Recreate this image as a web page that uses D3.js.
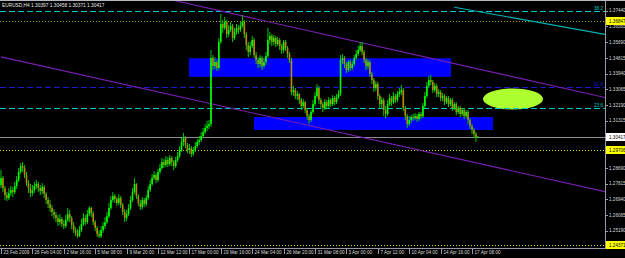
<!DOCTYPE html>
<html>
<head>
<meta charset="utf-8">
<script src="https://cdn.jsdelivr.net/npm/d3@7"></script>
<style>
  html, body { margin: 0; padding: 0; background: #000; }
  svg { display: block; }
  text { font-family: "Liberation Sans", Arial, sans-serif; }
</style>
</head>
<body>
<div id="chart"></div>
<script>
// 1. DATA -------------------------------------------------------------------------

const symbolName = "EURUSD,H4"
const lastQuote  = ["1.30397", "1.30458", "1.30371", "1.30417"]

// H4 bars, bar 0 = 23 Feb 2009 12:00 (open of bar 0, then every open is the previous close)
const firstOpen = 1.2773
const closes = [
  1.2812, 1.2756, 1.2717, 1.2701, 1.2729, 1.2745, 1.2734, 1.2768, 1.2801, 1.2846,
  1.2879, 1.2868, 1.2829, 1.2784, 1.2756, 1.2729, 1.2745, 1.2768, 1.2779, 1.2756,
  1.2740, 1.2762, 1.2723, 1.2690, 1.2667, 1.2645, 1.2623, 1.2606, 1.2589, 1.2567,
  1.2584, 1.2556, 1.2545, 1.2578, 1.2612, 1.2589, 1.2550, 1.2522, 1.2506, 1.2489,
  1.2522, 1.2556, 1.2589, 1.2567, 1.2612, 1.2645, 1.2617, 1.2567, 1.2534, 1.2500,
  1.2489, 1.2522, 1.2545, 1.2567, 1.2600, 1.2645, 1.2690, 1.2712, 1.2695, 1.2673,
  1.2701, 1.2662, 1.2623, 1.2589, 1.2612, 1.2645, 1.2690, 1.2734, 1.2779, 1.2712,
  1.2673, 1.2651, 1.2690, 1.2667, 1.2701, 1.2745, 1.2779, 1.2812, 1.2829, 1.2801,
  1.2846, 1.2868, 1.2901, 1.2885, 1.2912, 1.2890, 1.2924, 1.2901, 1.2879, 1.2912,
  1.2935, 1.2968, 1.3013, 1.3035, 1.2996, 1.2968, 1.2979, 1.2946, 1.2968, 1.2990,
  1.3013, 1.3024, 1.3046, 1.3068, 1.3091, 1.3102, 1.3113, 1.3481, 1.3436, 1.3458,
  1.3425, 1.3570, 1.3670, 1.3648, 1.3681, 1.3614, 1.3637, 1.3659, 1.3592, 1.3625,
  1.3648, 1.3637, 1.3659, 1.3681, 1.3614, 1.3553, 1.3514, 1.3547, 1.3581, 1.3497,
  1.3469, 1.3447, 1.3481, 1.3436, 1.3458, 1.3492, 1.3581, 1.3603, 1.3570, 1.3592,
  1.3559, 1.3581, 1.3547, 1.3525, 1.3570, 1.3536, 1.3503, 1.3469, 1.3291, 1.3302,
  1.3269, 1.3280, 1.3247, 1.3213, 1.3235, 1.3191, 1.3157, 1.3135, 1.3180, 1.3224,
  1.3269, 1.3313, 1.3247, 1.3224, 1.3202, 1.3235, 1.3213, 1.3247, 1.3224, 1.3258,
  1.3235, 1.3263, 1.3280, 1.3469, 1.3481, 1.3447, 1.3414, 1.3458, 1.3425, 1.3447,
  1.3481, 1.3503, 1.3525, 1.3547, 1.3514, 1.3469, 1.3436, 1.3458, 1.3391, 1.3358,
  1.3313, 1.3336, 1.3269, 1.3224, 1.3247, 1.3191, 1.3169, 1.3224, 1.3258, 1.3235,
  1.3269, 1.3247, 1.3280, 1.3291, 1.3302, 1.3202, 1.3157, 1.3113, 1.3135, 1.3152,
  1.3146, 1.3157, 1.3141, 1.3169, 1.3157, 1.3213, 1.3269, 1.3325, 1.3358, 1.3347,
  1.3302, 1.3325, 1.3280, 1.3291, 1.3258, 1.3269, 1.3235, 1.3258, 1.3224, 1.3247,
  1.3202, 1.3224, 1.3180, 1.3202, 1.3169, 1.3191, 1.3157, 1.3180, 1.3135, 1.3102,
  1.3080, 1.3057, 1.3040, 1.3042
]
const highs = [
  1.2857, 1.2823, 1.2768, 1.2734, 1.2756, 1.2768, 1.2762, 1.2790, 1.2823, 1.2868,
  1.2896, 1.2901, 1.2885, 1.2846, 1.2801, 1.2779, 1.2773, 1.2790, 1.2801, 1.2790,
  1.2773, 1.2784, 1.2773, 1.2734, 1.2706, 1.2690, 1.2662, 1.2639, 1.2623, 1.2606,
  1.2612, 1.2595, 1.2578, 1.2606, 1.2645, 1.2634, 1.2600, 1.2567, 1.2539, 1.2528,
  1.2545, 1.2584, 1.2617, 1.2606, 1.2634, 1.2656, 1.2651, 1.2628, 1.2578, 1.2545,
  1.2522, 1.2545, 1.2567, 1.2595, 1.2623, 1.2673, 1.2712, 1.2734, 1.2723, 1.2706,
  1.2723, 1.2712, 1.2673, 1.2639, 1.2634, 1.2667, 1.2712, 1.2756, 1.2812, 1.2784,
  1.2723, 1.2690, 1.2706, 1.2701, 1.2717, 1.2768, 1.2801, 1.2834, 1.2851, 1.2840,
  1.2862, 1.2890, 1.2924, 1.2918, 1.2935, 1.2929, 1.2940, 1.2935, 1.2912, 1.2929,
  1.2957, 1.2990, 1.3035, 1.3063, 1.3046, 1.3007, 1.3002, 1.2990, 1.2985, 1.3013,
  1.3029, 1.3046, 1.3068, 1.3091, 1.3113, 1.3130, 1.3135, 1.3525, 1.3497, 1.3486,
  1.3469, 1.3592, 1.3726, 1.3692, 1.3709, 1.3692, 1.3664, 1.3681, 1.3670, 1.3648,
  1.3670, 1.3664, 1.3687, 1.3720, 1.3692, 1.3625, 1.3570, 1.3570, 1.3603, 1.3592,
  1.3514, 1.3486, 1.3497, 1.3492, 1.3481, 1.3514, 1.3648, 1.3625, 1.3614, 1.3609,
  1.3603, 1.3598, 1.3592, 1.3559, 1.3581, 1.3581, 1.3547, 1.3514, 1.3481, 1.3325,
  1.3313, 1.3297, 1.3286, 1.3258, 1.3252, 1.3241, 1.3202, 1.3169, 1.3191, 1.3247,
  1.3291, 1.3336, 1.3325, 1.3258, 1.3235, 1.3252, 1.3247, 1.3263, 1.3258, 1.3274,
  1.3269, 1.3280, 1.3302, 1.3497, 1.3503, 1.3492, 1.3458, 1.3469, 1.3469, 1.3464,
  1.3497, 1.3525, 1.3547, 1.3570, 1.3570, 1.3525, 1.3481, 1.3475, 1.3469, 1.3403,
  1.3369, 1.3352, 1.3347, 1.3280, 1.3263, 1.3258, 1.3213, 1.3247, 1.3280, 1.3269,
  1.3291, 1.3280, 1.3297, 1.3313, 1.3330, 1.3313, 1.3213, 1.3169, 1.3157, 1.3163,
  1.3169, 1.3174, 1.3169, 1.3180, 1.3180, 1.3230, 1.3291, 1.3347, 1.3380, 1.3386,
  1.3358, 1.3341, 1.3336, 1.3308, 1.3302, 1.3286, 1.3280, 1.3269, 1.3269, 1.3258,
  1.3258, 1.3235, 1.3235, 1.3213, 1.3213, 1.3202, 1.3202, 1.3191, 1.3191, 1.3146,
  1.3113, 1.3091, 1.3068, 1.3046
]
const lows = [
  1.2756, 1.2734, 1.2690, 1.2684, 1.2690, 1.2712, 1.2706, 1.2723, 1.2751, 1.2790,
  1.2834, 1.2846, 1.2812, 1.2768, 1.2729, 1.2706, 1.2712, 1.2729, 1.2751, 1.2734,
  1.2717, 1.2723, 1.2701, 1.2667, 1.2645, 1.2623, 1.2600, 1.2584, 1.2567, 1.2545,
  1.2550, 1.2539, 1.2528, 1.2534, 1.2567, 1.2567, 1.2528, 1.2506, 1.2489, 1.2478,
  1.2484, 1.2511, 1.2545, 1.2550, 1.2556, 1.2600, 1.2595, 1.2550, 1.2517, 1.2484,
  1.2478, 1.2478, 1.2506, 1.2528, 1.2556, 1.2589, 1.2634, 1.2678, 1.2673, 1.2656,
  1.2662, 1.2645, 1.2606, 1.2567, 1.2573, 1.2600, 1.2634, 1.2678, 1.2723, 1.2695,
  1.2656, 1.2634, 1.2639, 1.2651, 1.2656, 1.2690, 1.2734, 1.2768, 1.2801, 1.2784,
  1.2790, 1.2834, 1.2857, 1.2868, 1.2873, 1.2873, 1.2879, 1.2879, 1.2857, 1.2868,
  1.2901, 1.2924, 1.2957, 1.2990, 1.2979, 1.2951, 1.2946, 1.2929, 1.2935, 1.2957,
  1.2979, 1.2996, 1.3013, 1.3035, 1.3057, 1.3074, 1.3085, 1.3096, 1.3414, 1.3419,
  1.3408, 1.3414, 1.3559, 1.3620, 1.3637, 1.3592, 1.3598, 1.3625, 1.3570, 1.3581,
  1.3609, 1.3614, 1.3625, 1.3648, 1.3592, 1.3525, 1.3486, 1.3497, 1.3536, 1.3481,
  1.3447, 1.3425, 1.3430, 1.3414, 1.3425, 1.3442, 1.3481, 1.3559, 1.3547, 1.3553,
  1.3542, 1.3547, 1.3525, 1.3503, 1.3508, 1.3520, 1.3481, 1.3453, 1.3274, 1.3269,
  1.3252, 1.3247, 1.3224, 1.3191, 1.3202, 1.3174, 1.3135, 1.3113, 1.3124, 1.3169,
  1.3213, 1.3258, 1.3224, 1.3202, 1.3180, 1.3191, 1.3196, 1.3202, 1.3208, 1.3213,
  1.3219, 1.3224, 1.3252, 1.3269, 1.3447, 1.3425, 1.3397, 1.3403, 1.3408, 1.3414,
  1.3436, 1.3469, 1.3492, 1.3514, 1.3497, 1.3453, 1.3414, 1.3419, 1.3375, 1.3336,
  1.3291, 1.3297, 1.3247, 1.3202, 1.3202, 1.3157, 1.3146, 1.3157, 1.3213, 1.3213,
  1.3224, 1.3230, 1.3235, 1.3263, 1.3274, 1.3185, 1.3135, 1.3091, 1.3102, 1.3118,
  1.3130, 1.3135, 1.3124, 1.3130, 1.3141, 1.3146, 1.3202, 1.3258, 1.3313, 1.3330,
  1.3286, 1.3291, 1.3263, 1.3263, 1.3241, 1.3241, 1.3219, 1.3224, 1.3208, 1.3213,
  1.3185, 1.3191, 1.3163, 1.3169, 1.3152, 1.3157, 1.3141, 1.3146, 1.3113, 1.3085,
  1.3057, 1.3035, 1.3013, 1.3037
]

// time axis: a label every 16 bars
const timeLabels = [
  "23 Feb 2009", "26 Feb 04:00", "2 Mar 16:00", "5 Mar 08:00", "9 Mar 20:00", "12 Mar 12:00",
  "17 Mar 00:00", "19 Mar 16:00", "24 Mar 04:00", "26 Mar 20:00", "31 Mar 08:00", "3 Apr 00:00",
  "7 Apr 12:00", "10 Apr 04:00", "14 Apr 16:00", "17 Apr 08:00"
]
const barsPerTimeLabel = 16

// price axis
const priceTicks = [1.37440, 1.36565, 1.35690, 1.34815, 1.33940, 1.33065, 1.32190, 1.31315,
                    1.30440, 1.29565, 1.28690, 1.27815, 1.26940, 1.26065, 1.25190]

// horizontal objects
const fiboPrices  = [1.3744, 1.3317, 1.3200]
const fiboLabels  = ["38.2", "61.8", "23.6"]
const dottedLevels = [1.36847, 1.29706, 1.24371]
const bidPrice     = 1.30417

// trend lines: [bar, price] pairs
const upperChannel = [[87, 1.3804], [308, 1.3260]]
const lowerChannel = [[0, 1.3487], [308, 1.2736]]
const cyanTrend    = [[231, 1.3763], [308, 1.3612]]

// rectangles and ellipse: [bar from, bar to, price top, price bottom]
const zones   = [[95.8, 229.3, 1.3479, 1.3376], [128.9, 250.7, 1.3152, 1.3080]]
const ellipse = [245.6, 276.2, 1.3311, 1.3194]

// 2. CANVAS -------------------------------------------------------------------------
const W = 625, H = 258
const plotRight = 605, plotBottom = 248

const svg = d3.select("#chart").append("svg")
  .attr("width", W)
  .attr("height", H)
  .style("background", "#000")

svg.append("defs").append("clipPath").attr("id", "plot")
  .append("rect").attr("x", 0).attr("y", 1).attr("width", plotRight).attr("height", plotBottom - 1)

const x = d3.scaleLinear().domain([0, 308]).range([1, 605.45])
const y = d3.scaleLinear().domain([1.3744, 1.2519]).range([10.7, 230.7])

const plot = svg.append("g").attr("clip-path", "url(#plot)")

// 3. BACKGROUND OBJECTS -------------------------------------------------------------------------
plot.selectAll("rect.zone").data(zones).enter().append("rect")
  .attr("class", "zone")
  .attr("x", d => x(d[0]))
  .attr("width", d => x(d[1]) - x(d[0]))
  .attr("y", d => y(d[2]))
  .attr("height", d => y(d[3]) - y(d[2]))
  .attr("fill", "#0000ff")

plot.append("ellipse")
  .attr("cx", (x(ellipse[0]) + x(ellipse[1])) / 2)
  .attr("cy", (y(ellipse[2]) + y(ellipse[3])) / 2)
  .attr("rx", (x(ellipse[1]) - x(ellipse[0])) / 2)
  .attr("ry", (y(ellipse[3]) - y(ellipse[2])) / 2)
  .attr("fill", "#adff2f")

// horizontal levels
const fiboColors = ["#00c8c8", "#1a1acc", "#00c8c8"]
plot.selectAll("line.fibo").data(fiboPrices).enter().append("line")
  .attr("class", "fibo")
  .attr("x1", 0).attr("x2", plotRight)
  .attr("y1", d => Math.round(y(d)) + 0.5).attr("y2", d => Math.round(y(d)) + 0.5)
  .attr("stroke", (d, i) => fiboColors[i])
  .attr("stroke-dasharray", "6,3")

plot.selectAll("text.fibo").data(fiboPrices).enter().append("text")
  .attr("class", "fibo")
  .attr("x", plotRight - 2)
  .attr("y", d => Math.round(y(d)) - 1)
  .attr("text-anchor", "end")
  .attr("font-size", 4.6)
  .attr("fill", (d, i) => fiboColors[i])
  .text((d, i) => fiboLabels[i])

const dottedColors = ["#a8a800", "#dcdc00", "#dcdc00"]
plot.selectAll("line.dotted").data(dottedLevels).enter().append("line")
  .attr("class", "dotted")
  .attr("x1", 0).attr("x2", plotRight)
  .attr("y1", d => Math.round(y(d)) + 0.5).attr("y2", d => Math.round(y(d)) + 0.5)
  .attr("stroke", (d, i) => dottedColors[i])
  .attr("stroke-dasharray", "1,2")

plot.append("line")
  .attr("x1", 0).attr("x2", plotRight)
  .attr("y1", Math.round(y(bidPrice)) + 0.5).attr("y2", Math.round(y(bidPrice)) + 0.5)
  .attr("stroke", "#8c8c96")

// trend lines
const trendLine = (pts, color) => plot.append("line")
  .attr("x1", x(pts[0][0])).attr("y1", y(pts[0][1]))
  .attr("x2", x(pts[1][0])).attr("y2", y(pts[1][1]))
  .attr("stroke", color)
  .attr("stroke-width", 1.1)

trendLine(upperChannel, "#7a1fb4")
trendLine(lowerChannel, "#7a1fb4")
trendLine(cyanTrend, "#00b4b4")

// 4. CANDLES -------------------------------------------------------------------------
const bars = closes.map((c, i) => ({
  i,
  open : i ? closes[i - 1] : firstOpen,
  close: c,
  high : highs[i],
  low  : lows[i]
}))

const candle = plot.append("g").selectAll("g").data(bars).enter().append("g")

candle.append("line")
  .attr("x1", d => x(d.i)).attr("x2", d => x(d.i))
  .attr("y1", d => y(Math.max(d.high, d.open, d.close)))
  .attr("y2", d => y(Math.min(d.low, d.open, d.close)))
  .attr("stroke", "#00c800")
  .attr("stroke-width", 1)

candle.append("rect")
  .attr("x", d => x(d.i) - 0.8)
  .attr("width", 1.6)
  .attr("y", d => y(Math.max(d.open, d.close)))
  .attr("height", d => Math.max(1, Math.abs(y(d.open) - y(d.close))))
  .attr("fill", d => d.close >= d.open ? "#00ff00" : "#b48a0a")

// 5. AXES -------------------------------------------------------------------------
const axisColor = "#9a9aa6"
svg.append("line").attr("x1", 0).attr("x2", W).attr("y1", 0.5).attr("y2", 0.5).attr("stroke", "#b8b8c0")
svg.append("line").attr("x1", plotRight + 0.5).attr("x2", plotRight + 0.5).attr("y1", 1).attr("y2", plotBottom)
  .attr("stroke", axisColor)
svg.append("line").attr("x1", 0).attr("x2", plotRight + 1).attr("y1", plotBottom + 0.5).attr("y2", plotBottom + 0.5)
  .attr("stroke", axisColor)

// price labels (the ones hidden behind a highlighted box are skipped)
const fmt = d3.format(".5f")
const boxed = dottedLevels.concat([bidPrice])
const visibleTicks = priceTicks.filter(p => boxed.every(b => Math.abs(y(p) - y(b)) > 5))

const priceAxis = svg.append("g")
priceAxis.selectAll("line").data(priceTicks).enter().append("line")
  .attr("x1", plotRight).attr("x2", plotRight + 3)
  .attr("y1", d => Math.round(y(d)) + 0.5).attr("y2", d => Math.round(y(d)) + 0.5)
  .attr("stroke", axisColor)
priceAxis.selectAll("text").data(visibleTicks).enter().append("text")
  .attr("x", plotRight + 4)
  .attr("y", d => y(d) + 1.7)
  .attr("font-size", 4.6)
  .attr("fill", "#d8d8d8")
  .text(fmt)

// highlighted price boxes
const priceBox = (price, bg) => {
  const g = svg.append("g").attr("transform", `translate(${plotRight + 1},${Math.round(y(price))})`)
  g.append("rect").attr("x", 0).attr("y", -4).attr("width", 19).attr("height", 8).attr("fill", bg)
  g.append("text").attr("x", 3).attr("y", 1.8).attr("font-size", 4.6).attr("fill", "#000").text(fmt(price))
}
dottedLevels.forEach(p => priceBox(p, "#ffff00"))
priceBox(bidPrice, "#ffffff")

// time labels
const timeAxis = svg.append("g")
timeLabels.forEach((label, k) => {
  const tx = Math.round(x(k * barsPerTimeLabel)) + 0.5
  timeAxis.append("line")
    .attr("x1", tx).attr("x2", tx).attr("y1", plotBottom).attr("y2", plotBottom + 6)
    .attr("stroke", axisColor)
  timeAxis.append("text")
    .attr("x", tx + 2)
    .attr("y", plotBottom + 6)
    .attr("font-size", 4.6)
    .attr("fill", "#d8d8d8")
    .text(label)
})

// header
svg.append("text")
  .attr("x", 2)
  .attr("y", 7)
  .attr("font-size", 4.8)
  .attr("fill", "#e8e8e8")
  .text(symbolName + "  " + lastQuote.join(" "))
</script>
</body>
</html>
